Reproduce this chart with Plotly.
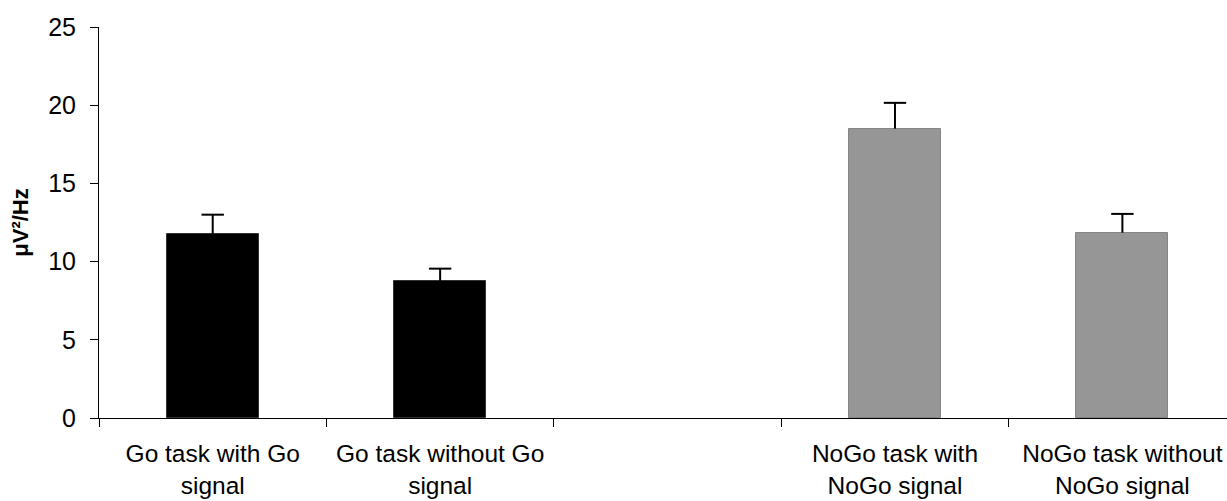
import plotly.graph_objects as go

# Mean spectral power per condition, with the upper standard error
categories = [
    "Go task with Go<br>signal",
    "Go task without Go<br>signal",
    " ",
    "NoGo task with<br>NoGo signal",
    "NoGo task without<br>NoGo signal",
]
power = [11.75, 8.75, None, 18.5, 11.85]
sem_upper = [1.25, 0.8, 0, 1.65, 1.2]
bar_colors = ["#000000", "#000000", "#000000", "#969696", "#969696"]
edge_colors = ["#333333", "#333333", "#333333", "#858585", "#858585"]
y_ticks = [0, 5, 10, 15, 20, 25]

# Top of each whisker, where the cap is drawn
whisker_tops = [p + s if p is not None else None for p, s in zip(power, sem_upper)]

fig = go.Figure()

fig.add_trace(
    go.Bar(
        x=categories,
        y=power,
        width=0.405,
        marker=dict(color=bar_colors, line=dict(color=edge_colors, width=1)),
        error_y=dict(
            type="data",
            symmetric=False,
            array=sem_upper,
            arrayminus=[0] * len(sem_upper),
            color="#000000",
            thickness=2,
            width=0,
        ),
        showlegend=False,
    )
)

# Horizontal caps on the upper whiskers only
fig.add_trace(
    go.Scatter(
        x=categories,
        y=whisker_tops,
        mode="markers",
        marker=dict(symbol="line-ew", size=16, line=dict(color="#000000", width=2)),
        showlegend=False,
        hoverinfo="skip",
    )
)

font_family = "Liberation Sans, Arial, sans-serif"

fig.update_layout(
    width=1227,
    height=501,
    margin=dict(l=99, r=0, t=27, b=83),
    paper_bgcolor="white",
    plot_bgcolor="white",
    font=dict(family=font_family, size=21, color="#000000"),
    bargap=0,
)

fig.update_xaxes(
    type="category",
    categoryorder="array",
    categoryarray=categories,
    range=[-0.5, 4.46],
    tickson="boundaries",
    ticks="outside",
    ticklen=8,
    tickwidth=1,
    tickcolor="#000000",
    showline=True,
    linecolor="#000000",
    linewidth=1,
    showgrid=False,
    zeroline=False,
    tickfont=dict(size=24.5),
    ticklabelstandoff=14,
)

fig.update_yaxes(
    range=[0, 25],
    tickvals=y_ticks,
    ticktext=[str(v) for v in y_ticks],
    ticks="outside",
    ticklen=8,
    tickwidth=1,
    tickcolor="#000000",
    showline=True,
    linecolor="#000000",
    linewidth=1,
    showgrid=False,
    zeroline=False,
    tickfont=dict(size=25),
    ticklabelstandoff=9,
    title=dict(text="<b>μV²/Hz</b>", font=dict(size=22), standoff=13),
)

fig.write_html("out.html")
